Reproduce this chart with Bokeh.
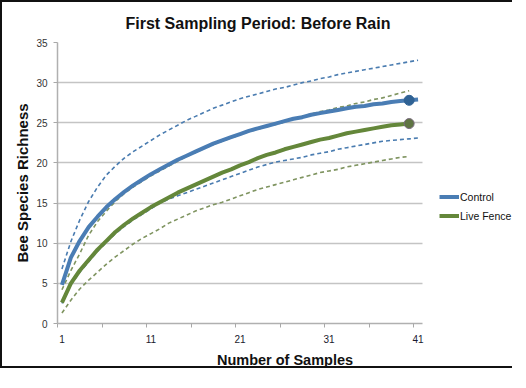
from bokeh.plotting import figure
from bokeh.models import FixedTicker, Legend, LegendItem
from bokeh.embed import file_html
from bokeh.resources import INLINE

# ---- data ----
samples = list(range(1, 42))
control = [4.8, 8.2, 10.3, 12.0, 13.3, 14.5, 15.5, 16.4, 17.2, 17.9,
           18.6, 19.2, 19.8, 20.4, 20.9, 21.4, 21.9, 22.4, 22.8, 23.2,
           23.6, 24.0, 24.3, 24.6, 24.9, 25.2, 25.5, 25.7, 26.0, 26.2,
           26.4, 26.6, 26.8, 27.0, 27.1, 27.3, 27.4, 27.6, 27.7, 27.8, 27.9]
control_upper = [6.8, 10.2, 12.9, 15.2, 17.0, 18.5, 19.6, 20.6, 21.4, 22.1,
                 22.8, 23.5, 24.1, 24.7, 25.3, 25.8, 26.3, 26.8, 27.2, 27.6,
                 28.0, 28.3, 28.6, 28.9, 29.2, 29.4, 29.7, 30.0, 30.2, 30.5,
                 30.7, 31.0, 31.2, 31.4, 31.6, 31.8, 32.0, 32.2, 32.4, 32.6, 32.8]
control_lower = [2.5, 4.8, 6.4, 7.7, 9.0, 10.1, 11.2, 12.1, 12.9, 13.6,
                 14.3, 15.0, 15.5, 15.9, 16.3, 16.7, 17.1, 17.5, 17.9, 18.3,
                 18.7, 19.1, 19.5, 19.8, 20.1, 20.3, 20.5, 20.7, 21.0, 21.2,
                 21.4, 21.7, 21.9, 22.1, 22.3, 22.5, 22.7, 22.8, 22.9, 23.0, 23.1]
live_fence = [2.6, 5.0, 6.6, 7.9, 9.2, 10.3, 11.4, 12.3, 13.1, 13.8,
              14.5, 15.1, 15.7, 16.3, 16.8, 17.3, 17.8, 18.3, 18.8, 19.2,
              19.7, 20.1, 20.6, 21.0, 21.3, 21.7, 22.0, 22.3, 22.6, 22.9,
              23.1, 23.4, 23.7, 23.9, 24.1, 24.3, 24.5, 24.7, 24.8, 24.9]
live_upper = [4.2, 6.6, 8.7, 11.0, 12.7, 14.0, 15.2, 16.2, 17.0, 17.7,
              18.4, 19.0, 19.6, 20.2, 20.8, 21.3, 21.8, 22.3, 22.7, 23.1,
              23.5, 23.9, 24.2, 24.5, 24.8, 25.1, 25.5, 25.8, 26.1, 26.4,
              26.6, 26.9, 27.1, 27.4, 27.6, 27.9, 28.1, 28.4, 28.7, 29.0]
live_lower = [1.3, 2.9, 4.3, 5.4, 6.4, 7.4, 8.3, 9.1, 9.9, 10.6,
              11.2, 11.8, 12.5, 13.0, 13.5, 14.0, 14.4, 14.8, 15.1, 15.5,
              15.9, 16.3, 16.7, 17.0, 17.3, 17.6, 17.9, 18.2, 18.5, 18.8,
              19.0, 19.2, 19.5, 19.7, 19.9, 20.1, 20.3, 20.5, 20.7, 20.8]
x_label_ticks = [1, 11, 21, 31, 41]
x_boundary_ticks = [0.5, 5.5, 10.5, 15.5, 20.5, 25.5, 30.5, 35.5, 40.5]
y_ticks = [0, 5, 10, 15, 20, 25, 30, 35]
marker_index = 39  # sample 40

FONT = "Liberation Sans"
BLUE = "#4a7db4"
BLUE_D = "#4a7cb0"
BLUE_M = "#2f6294"
GREEN = "#64873a"
GREEN_D = "#7f9460"
GREEN_M = "#5f7443"

n_live = len(live_fence)

# the axis spans 0.5..41.5 over 365px; the frame continues to the right to hold the legend
FIG_W, FIG_H = 512, 368
BL, BR = 55, 2
frame_w = FIG_W - BL - BR
x_end = 0.5 + 41 * frame_w / 365.0

p = figure(width=FIG_W, height=FIG_H, output_backend="svg", toolbar_location=None,
           x_range=(0.5, x_end), y_range=(0, 35),
           min_border_left=BL, min_border_right=BR,
           min_border_top=39, min_border_bottom=46)
p.styles = {"border-left": "2px solid #111", "border-top": "2px solid #111",
            "border-bottom": "2px solid #111"}
p.outline_line_color = None
p.background_fill_color = "white"
p.border_fill_color = "white"

p.title.text = "First Sampling Period: Before Rain"
p.title.text_font = FONT
p.title.text_font_size = "16px"
p.title.text_font_style = "bold"
p.title.text_color = "#111111"
p.title.align = "left"
p.title.offset = 68
p.title.standoff = 21

# grid
p.xgrid.visible = False
p.ygrid.ticker = FixedTicker(ticks=y_ticks)
p.ygrid.grid_line_color = "#c4c4c4"
p.ygrid.grid_line_width = 1.5
p.ygrid.cross_bounds = (0.5, 41.5)

# axes
xa = p.xaxis[0]
xa.bounds = (0.5, 41.5)
xa.ticker = FixedTicker(ticks=x_label_ticks, minor_ticks=x_boundary_ticks)
xa.major_tick_out = 0
xa.major_tick_in = 0
xa.minor_tick_out = 4
xa.minor_tick_in = 0
xa.minor_tick_line_color = "#a8a8a8"
xa.axis_line_color = "#b0b0b0"
xa.axis_line_width = 1.5
xa.major_label_text_font = FONT
xa.major_label_text_font_size = "10px"
xa.major_label_text_color = "#1a1a2e"
xa.major_label_standoff = 7
xa.axis_label = "Number of Samples"
xa.axis_label_text_font = FONT
xa.axis_label_text_font_size = "14.5px"
xa.axis_label_text_font_style = "bold"
xa.axis_label_text_color = "#111111"
xa.axis_label_standoff = 6

ya = p.yaxis[0]
ya.ticker = FixedTicker(ticks=y_ticks)
ya.major_tick_out = 4
ya.major_tick_in = 0
ya.major_tick_line_color = "#a8a8a8"
ya.minor_tick_line_color = None
ya.axis_line_color = "#b0b0b0"
ya.axis_line_width = 1.5
ya.major_label_text_font = FONT
ya.major_label_text_font_size = "10px"
ya.major_label_text_color = "#333333"
ya.major_label_standoff = 6
ya.axis_label = "Bee Species Richness"
ya.axis_label_text_font = FONT
ya.axis_label_text_font_size = "15px"
ya.axis_label_text_font_style = "bold"
ya.axis_label_text_color = "#111111"
ya.axis_label_standoff = 2

# dashed confidence lines
p.line(samples, control_upper, line_color=BLUE_D, line_width=1.6, line_dash="4 3")
p.line(samples, control_lower, line_color=BLUE_D, line_width=1.6, line_dash="4 3")
p.line(samples[:n_live], live_upper, line_color=GREEN_D, line_width=1.6, line_dash="4 3")
p.line(samples[:n_live], live_lower, line_color=GREEN_D, line_width=1.6, line_dash="4 3")

# main curves
r_c = p.line(samples, control, line_color=BLUE, line_width=4)
r_l = p.line(samples[:n_live], live_fence, line_color=GREEN, line_width=4)
p.scatter([samples[marker_index]], [control[marker_index]], size=10,
          fill_color=BLUE_M, line_color=BLUE_M)
p.scatter([samples[marker_index]], [live_fence[marker_index]], size=10,
          fill_color=GREEN_M, line_color="#7a6a80")

legend = Legend(items=[LegendItem(label="Control", renderers=[r_c]),
                       LegendItem(label="Live Fence", renderers=[r_l])],
                location=(382, 98))
legend.label_text_font = FONT
legend.label_text_font_size = "10.5px"
legend.label_text_color = "#111111"
legend.glyph_width = 20
legend.glyph_height = 19
legend.label_height = 19
legend.label_standoff = 1
legend.spacing = 0
legend.padding = 0
legend.margin = 0
legend.border_line_color = None
legend.background_fill_alpha = 0
p.add_layout(legend, "center")

open("out.html", "w").write(file_html(p, INLINE))
